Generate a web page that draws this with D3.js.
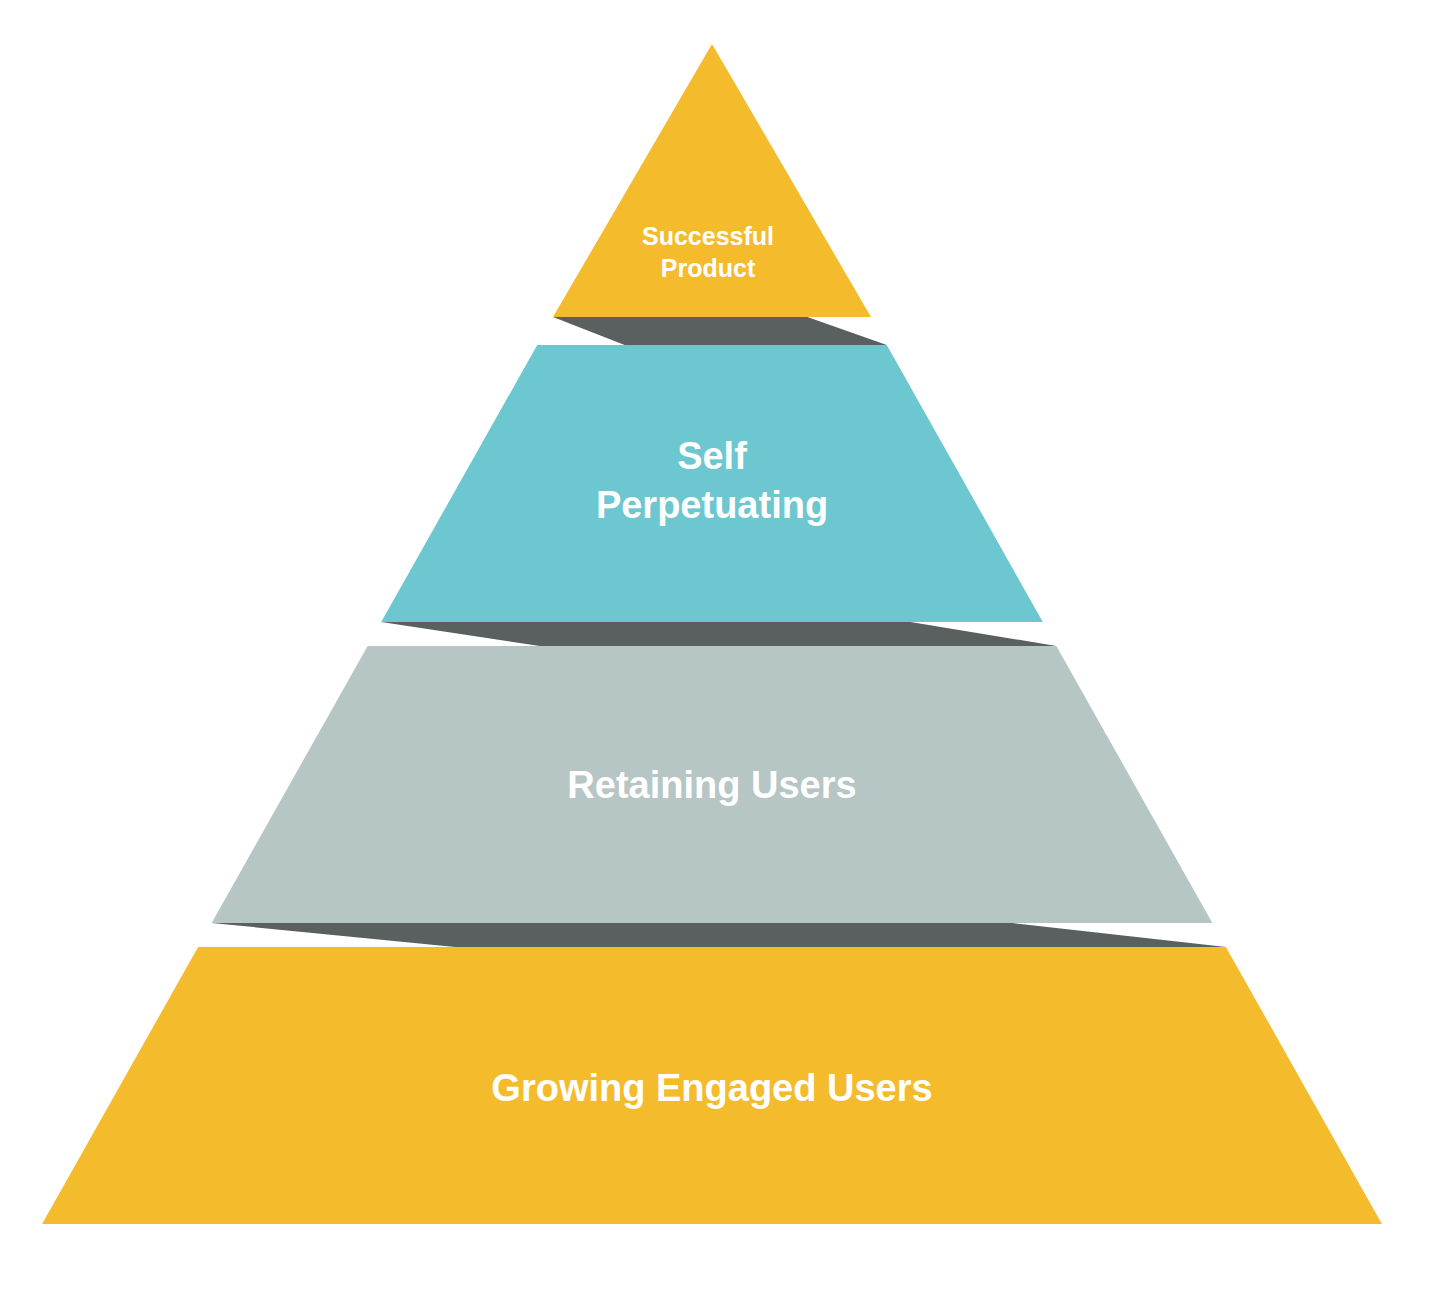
<!DOCTYPE html>
<html><head><meta charset="utf-8">
<script src="https://cdn.jsdelivr.net/npm/d3@7"></script>
<style>body{margin:0;background:#fff}</style></head>
<body><svg id="c" width="1430" height="1292"></svg>
<script>
const labels = [["Successful","Product"],["Self","Perpetuating"],["Retaining Users"],["Growing Engaged Users"]];
const colors = ["#F4BC2C","#6DC7D0","#B5C6C4","#F4BC2C"];
const fontSizes = [25,38,38,38];
const connectorColor = "#5A5F5F";

const svg = d3.select("#c");
const cx = 712, apex = 44, tierH = 273, gap = 28;
// vertical scale: level index -> y of tier top
const yTop = d3.scaleLinear().domain([0,1]).range([apex, apex + tierH + gap]);
const hw = d3.scaleLinear().domain([317,1233]).range([159,675]);

labels.forEach((lab,i)=>{
  const t = i===0 ? apex : yTop(i) ;
  const b = (i===0 ? apex : yTop(i)) + (i===0?273:277);
  const htT = i===0 ? 0 : hw(t), htB = hw(b);
  const pts = [[cx-htT,t],[cx+htT,t],[cx+htB,b],[cx-htB,b]];
  svg.append("path").attr("d", d3.line()(pts)+"Z").attr("fill", colors[i]);
  if(i<labels.length-1){
    const nt = yTop(i+1), nh = hw(nt);
    const cp = [[cx-htB,b],[cx+0.6*htB,b],[cx+nh,nt],[cx-0.5*nh,nt]];
    svg.append("path").attr("d", d3.line()(cp)+"Z").attr("fill", connectorColor);
  }
  const fs = fontSizes[i], lh = fs*1.28;
  const mid = i===0 ? 252 : (t+b)/2 - (i===1?3:0) - (i===3?-2:0);
  const txt = svg.append("text").attr("x",cx).attr("text-anchor","middle")
    .attr("fill","#fff").attr("font-family","Liberation Sans, Arial, sans-serif")
    .attr("font-weight","bold").attr("font-size",fs);
  lab.forEach((l,j)=>{
    txt.append("tspan").attr("x",cx-(i===0?4:0))
      .attr("y", mid + (j-(lab.length-1)/2)*lh + fs*0.35).text(l);
  });
});
</script></body></html>
